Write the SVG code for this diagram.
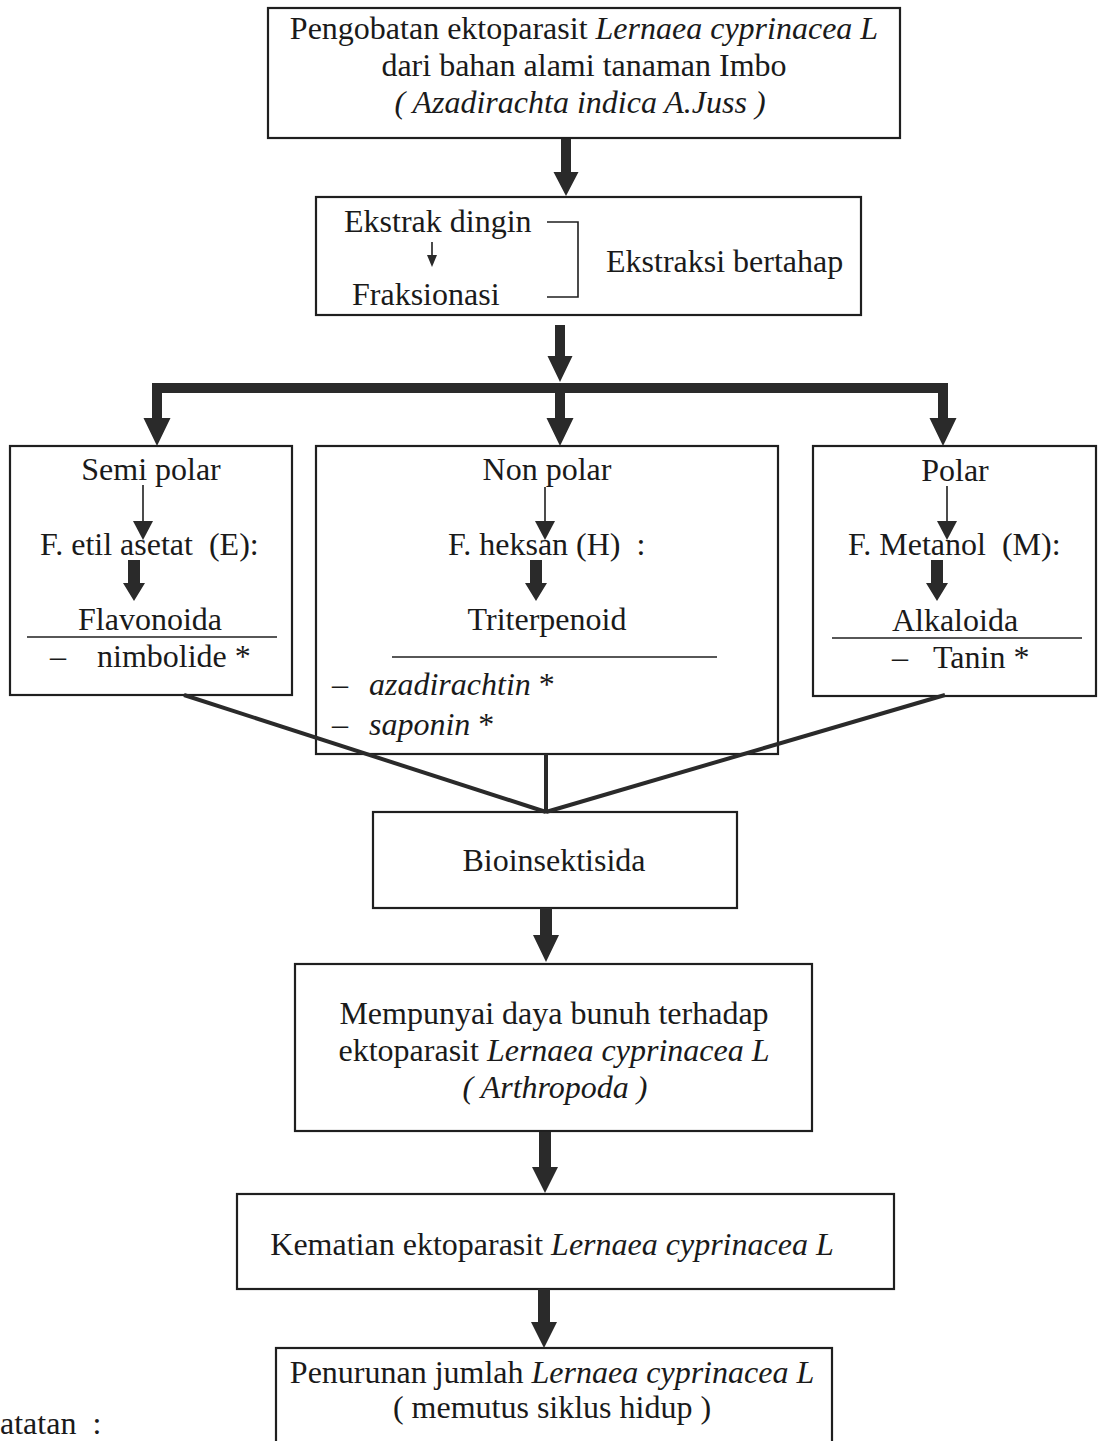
<svg xmlns="http://www.w3.org/2000/svg" width="1098" height="1441" viewBox="0 0 1098 1441">
<style>
text{font-family:"Liberation Serif","Times New Roman",serif;font-size:32px;fill:#1a1a1a}
.c{text-anchor:middle}
.i{font-style:italic}
.box{fill:none;stroke:#1f1f1f;stroke-width:2.2}
.arr{fill:#2a2a2a}
.ln{stroke:#1f1f1f;stroke-width:1.6;fill:none}
.conv{stroke:#2a2a2a;stroke-width:4;fill:none}
</style>
<rect x="0" y="0" width="1098" height="1441" fill="#fff"/>

<g id="n-pengobatan">
<rect class="box" x="268" y="8" width="632" height="130"/>
<text class="c" x="584" y="39">Pengobatan ektoparasit <tspan class="i">Lernaea cyprinacea L</tspan></text>
<text class="c" x="584" y="76">dari bahan alami tanaman Imbo</text>
<text class="c i" x="580" y="113">( Azadirachta indica A.Juss )</text>
</g>

<g id="n-ekstraksi">
<rect class="box" x="316" y="197" width="545" height="118"/>
<text x="344" y="232">Ekstrak dingin</text>
<line class="ln" x1="432" y1="242" x2="432" y2="258"/>
<polygon class="arr" points="427,255 437,255 432,267"/>
<text x="352" y="305">Fraksionasi</text>
<polyline class="ln" points="547,222 578,222 578,297 547,297"/>
<text x="606" y="272">Ekstraksi bertahap</text>
</g>

<g id="n-semipolar">
<rect class="box" x="10" y="446" width="282" height="249"/>
<text class="c" x="151" y="480">Semi polar</text>
<line class="ln" x1="143" y1="485" x2="143" y2="523"/>
<polygon class="arr" points="133,521 153,521 143,540"/>
<text x="40" y="555" xml:space="preserve">F. etil asetat  (E):</text>
<polygon class="arr" points="128,560 140,560 140,583 145,583 134,601 123,583 128,583"/>
<text class="c" x="150" y="630">Flavonoida</text>
<line class="ln" x1="27" y1="637" x2="277" y2="637"/>
<text x="50" y="667">–</text>
<text x="97" y="667">nimbolide *</text>
</g>

<g id="n-nonpolar">
<rect class="box" x="316" y="446" width="462" height="308"/>
<text class="c" x="547" y="480">Non polar</text>
<line class="ln" x1="545" y1="487" x2="545" y2="523"/>
<polygon class="arr" points="535,521 555,521 545,540"/>
<text x="448" y="555" xml:space="preserve">F. heksan (H)  :</text>
<polygon class="arr" points="530,560 542,560 542,583 547,583 536,601 525,583 530,583"/>
<text class="c" x="547" y="630">Triterpenoid</text>
<line class="ln" x1="392" y1="657" x2="717" y2="657"/>
<text x="332" y="695">–</text>
<text x="369" y="695"><tspan class="i">azadirachtin</tspan> *</text>
<text x="332" y="735">–</text>
<text x="369" y="735"><tspan class="i">saponin</tspan> *</text>
</g>

<g id="n-polar">
<rect class="box" x="813" y="446" width="283" height="250"/>
<text class="c" x="955" y="481">Polar</text>
<line class="ln" x1="947" y1="486" x2="947" y2="523"/>
<polygon class="arr" points="937,521 957,521 947,540"/>
<text x="848" y="555" xml:space="preserve">F. Metanol  (M):</text>
<polygon class="arr" points="931,560 943,560 943,583 948,583 937,601 926,583 931,583"/>
<text class="c" x="955" y="631">Alkaloida</text>
<line class="ln" x1="832" y1="638" x2="1082" y2="638"/>
<text x="892" y="668">–</text>
<text x="933" y="668">Tanin *</text>
</g>

<g id="n-bioinsektisida">
<rect class="box" x="373" y="812" width="364" height="96"/>
<text class="c" x="554" y="871">Bioinsektisida</text>
</g>

<g id="n-mempunyai">
<rect class="box" x="295" y="964" width="517" height="167"/>
<text class="c" x="554" y="1024">Mempunyai daya bunuh terhadap</text>
<text class="c" x="554" y="1061">ektoparasit <tspan class="i">Lernaea cyprinacea L</tspan></text>
<text class="c i" x="555" y="1098">( Arthropoda )</text>
</g>

<g id="n-kematian">
<rect class="box" x="237" y="1194" width="657" height="95"/>
<text class="c" x="552" y="1255">Kematian ektoparasit <tspan class="i">Lernaea cyprinacea L</tspan></text>
</g>

<g id="n-penurunan">
<rect class="box" x="276" y="1348" width="556" height="110"/>
<text class="c" x="552" y="1383">Penurunan jumlah <tspan class="i">Lernaea cyprinacea L</tspan></text>
<text class="c" x="552" y="1418">( memutus siklus hidup )</text>
</g>

<g id="n-catatan">
<text x="0" y="1434" xml:space="preserve">atatan  :</text>
</g>

<g id="connectors">
<polygon class="arr" points="561,139 571,139 571,172 578.5,172 566,196 553.5,172 561,172"/>
<polygon class="arr" points="555,325 565,325 565,356 572.5,356 560,382 547.5,356 555,356"/>
<rect class="arr" x="152" y="383" width="796" height="10"/>
<polygon class="arr" points="152,390 162,390 162,418 170.5,418 157,446 143.5,418 152,418"/>
<polygon class="arr" points="555,390 565,390 565,418 573.5,418 560,446 546.5,418 555,418"/>
<polygon class="arr" points="938,390 948,390 948,418 956.5,418 943,446 929.5,418 938,418"/>
<line class="conv" x1="184" y1="695" x2="546" y2="812"/>
<line class="conv" x1="945" y1="695" x2="546" y2="812"/>
<line class="conv" x1="546" y1="754" x2="546" y2="812" stroke-width="7"/>
<polygon class="arr" points="540,908 552,908 552,935 559,935 546,962 533,935 540,935"/>
<polygon class="arr" points="539,1132 551,1132 551,1167 558,1167 545,1193 532,1167 539,1167"/>
<polygon class="arr" points="538,1289 550,1289 550,1322 557,1322 544,1348 531,1322 538,1322"/>
</g>
</svg>
